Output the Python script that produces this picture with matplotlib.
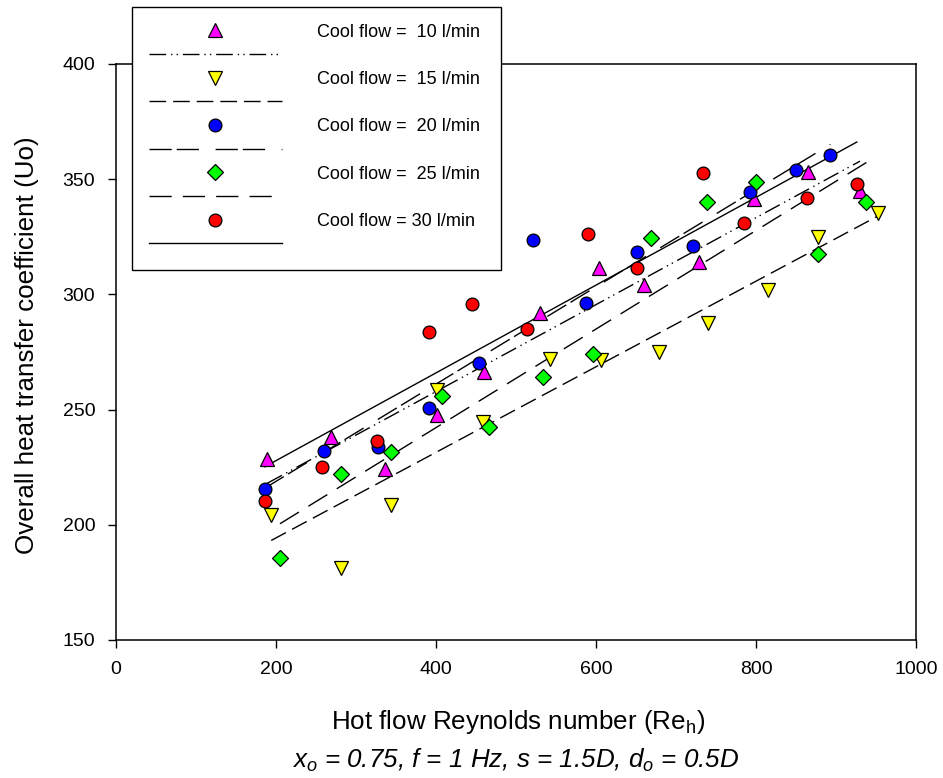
import numpy as np
import matplotlib
matplotlib.use("Agg")
import matplotlib.pyplot as plt
from matplotlib.lines import Line2D

plt.rcParams['font.family'] = ['Liberation Sans', 'DejaVu Sans']
plt.rcParams['mathtext.fontset'] = 'custom'
plt.rcParams['mathtext.rm'] = 'Liberation Sans'
plt.rcParams['mathtext.it'] = 'Liberation Sans:italic'
plt.rcParams['lines.scale_dashes'] = False

# ---- data ----
re_10 = [189, 269, 336, 401, 460, 530, 604, 660, 729, 797, 865, 930]
u_10 = [228.6, 238.1, 224.2, 247.7, 266.3, 291.9, 311.5, 304.0, 314.0, 341.4, 353.0, 344.9]

re_15 = [194, 281, 344, 401, 459, 542, 606, 679, 740, 815, 877, 952]
u_15 = [204.3, 181.2, 208.6, 258.5, 244.6, 272.0, 271.5, 275.0, 287.6, 301.9, 325.0, 335.3]

re_20 = [186, 260, 328, 391, 454, 521, 588, 651, 721, 793, 850, 893]
u_20 = [215.5, 232.0, 233.8, 250.7, 270.2, 323.6, 296.3, 318.4, 321.0, 344.4, 354.0, 360.5]

re_25 = [205, 281, 344, 408, 466, 534, 596, 669, 739, 800, 878, 938]
u_25 = [185.6, 222.0, 231.6, 255.9, 242.4, 264.0, 274.0, 324.5, 340.0, 348.8, 317.5, 340.0]

re_30 = [186, 258, 326, 391, 445, 514, 590, 651, 734, 785, 864, 926]
u_30 = [210.3, 225.0, 236.4, 283.7, 295.8, 285.0, 326.2, 311.5, 352.7, 331.0, 341.8, 348.0]

labels = ['Cool flow =  10 l/min', 'Cool flow =  15 l/min', 'Cool flow =  20 l/min',
          'Cool flow =  25 l/min', 'Cool flow = 30 l/min']
x_ticks = [0, 200, 400, 600, 800, 1000]
y_ticks = [150, 200, 250, 300, 350, 400]

series = [(re_10, u_10), (re_15, u_15), (re_20, u_20), (re_25, u_25), (re_30, u_30)]
markers = ['^', 'v', 'o', 'D', 'o']
colors = ['#FF00FF', '#FFFF00', '#0000FF', '#00FF00', '#FF0000']
msizes = [10, 10, 9.2, 8, 9.2]
dashes = [(0, (12, 3.5, 1, 3, 1, 3.5)),
          (0, (12, 5)),
          (0, (16, 3.6, 16, 12)),
          (0, (16, 8)),
          'solid']

fig = plt.figure(figsize=(9.43, 7.78), dpi=100)
ax = fig.add_axes([116/943, 1-640/778, 800/943, 576/778])

handles = []
for (xs, ys), m, c, ms, ls, lab in zip(series, markers, colors, msizes, dashes, labels):
    xs = np.asarray(xs, float); ys = np.asarray(ys, float)
    k, b = np.polyfit(xs, ys, 1)
    xl = np.array([xs.min(), xs.max()])
    ax.plot(xl, k*xl + b, color='black', lw=1.0, linestyle=ls, zorder=2)
    hm = Line2D([], [], linestyle='None', marker=m, markersize=ms, markerfacecolor=c,
                markeredgecolor='black', markeredgewidth=0.9)
    hl = Line2D([], [], color='black', lw=1.0, linestyle=ls)
    handles += [(hm, lab + ' '), (hl, ' ')]

for (xs, ys), m, c, ms in zip(series, markers, colors, msizes):
    ax.plot(xs, ys, linestyle='None', marker=m, markersize=ms, markerfacecolor=c,
            markeredgecolor='black', markeredgewidth=0.9, zorder=3)

ax.set_xlim(0, 1000)
ax.set_ylim(150, 400)
ax.set_xticks(x_ticks)
ax.set_yticks(y_ticks)
ax.tick_params(direction='out', length=6, width=1, labelsize=14,
               top=False, right=False)
ax.tick_params(axis='y', pad=9)
ax.tick_params(axis='x', pad=9)
for s in ax.spines.values():
    s.set_linewidth(1.1)

fig.text(27/943, 1-345/778, 'Overall heat transfer coefficient (Uo)', rotation=90,
         ha='center', va='center', fontsize=18.7)
fig.text(518/943, 1-729/778, r'Hot flow Reynolds number (Re$_\mathrm{h}$)',
         ha='center', va='baseline', fontsize=18.7)
fig.text(516/943, 1-768/778, r'$x_o$ = 0.75, f = 1 Hz, s = 1.5D, $d_o$ = 0.5D',
         ha='center', va='baseline', fontsize=18.7, fontstyle='italic')

leg = fig.legend([h for h, _ in handles], [l for _, l in handles],
                 loc='upper left', bbox_to_anchor=(132/943, 1-7/778),
                 fontsize=13, frameon=True, fancybox=False, shadow=False,
                 handlelength=7.4, handletextpad=1.9, labelspacing=0.37,
                 borderpad=0.92, borderaxespad=0, numpoints=1)
leg.get_frame().set_edgecolor('black')
leg.get_frame().set_linewidth(1.0)
leg.get_frame().set_alpha(1)

fig.savefig('out.png', dpi=100)
